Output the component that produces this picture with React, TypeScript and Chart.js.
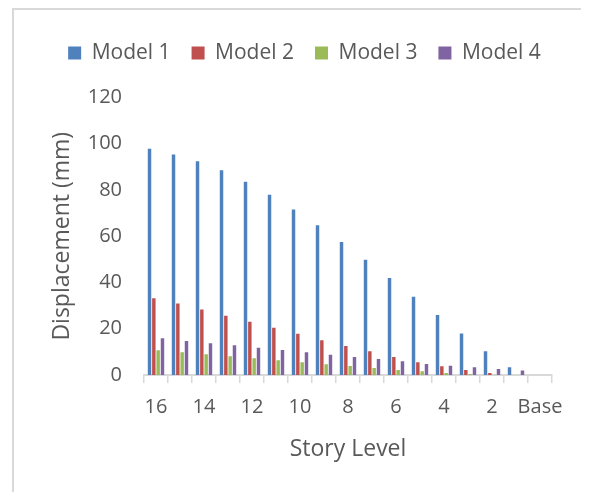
import { useEffect, useRef } from "react";
import { Chart, registerables } from "chart.js";

Chart.register(...registerables);

const storyLevels = ["16", "15", "14", "13", "12", "11", "10", "9", "8", "7", "6", "5", "4", "3", "2", "1", "Base"];
const model1 = [97.8, 95.3, 92.4, 88.5, 83.6, 78.0, 71.6, 64.8, 57.5, 49.8, 41.9, 33.8, 25.9, 17.9, 10.3, 3.3, 0];
const model2 = [33.2, 30.9, 28.3, 25.6, 23.0, 20.4, 17.8, 15.0, 12.5, 10.3, 7.8, 5.5, 3.8, 2.2, 0.9, 0, 0];
const model3 = [10.7, 9.8, 9.0, 8.1, 7.2, 6.4, 5.5, 4.6, 3.9, 3.0, 2.2, 1.6, 0.9, 0.4, 0.1, 0, 0];
const model4 = [15.9, 14.7, 13.7, 12.9, 11.8, 10.8, 9.8, 8.8, 7.8, 6.9, 5.9, 4.8, 4.0, 3.3, 2.6, 2.0, 0];
const yTicks = [0, 20, 40, 60, 80, 100, 120];

const textColor = "#595959";
const fontFamily = "'Open Sans', sans-serif";

// push the plot down below the legend
const legendSpacer = {
  id: "legendSpacer",
  beforeInit(chart: any) {
    const legend = chart.legend;
    if (!legend) return;
    const fit = legend.fit;
    legend.fit = function () {
      fit.call(this);
      this.height += 24;
    };
  },
};

export default function App() {
  const chartRef = useRef<HTMLCanvasElement>(null);
  const chartInstance = useRef<Chart | null>(null);

  useEffect(() => {
    if (!chartRef.current) return;
    if (chartInstance.current) {
      chartInstance.current.destroy();
    }
    const ctx = chartRef.current.getContext("2d");
    if (!ctx) return;

    chartInstance.current = new Chart(ctx, {
      type: "bar",
      data: {
        labels: storyLevels,
        datasets: [
          { label: "Model 1", data: model1, backgroundColor: "#4F81BD" },
          { label: "Model 2", data: model2, backgroundColor: "#C0504D" },
          { label: "Model 3", data: model3, backgroundColor: "#9BBB59" },
          { label: "Model 4", data: model4, backgroundColor: "#8064A2" },
        ],
      },
      options: {
        animation: false,
        responsive: true,
        maintainAspectRatio: false,
        datasets: {
          bar: {
            categoryPercentage: 0.72,
            barPercentage: 0.8,
          },
        },
        layout: {
          padding: { top: 11.5, left: 9, right: 0, bottom: 35 },
        },
        plugins: {
          legend: {
            position: "top",
            labels: {
              boxWidth: 13,
              boxHeight: 13,
              padding: 21,
              color: textColor,
              font: { family: fontFamily, size: 21 },
            },
          },
          tooltip: { enabled: false },
        },
        scales: {
          x: {
            grid: {
              display: true,
              drawOnChartArea: false,
              drawTicks: true,
              tickLength: 8,
              color: "#D9D9D9",
              lineWidth: 1.5,
            },
            border: { display: true, color: "#D9D9D9", width: 2 },
            ticks: {
              autoSkip: false,
              maxRotation: 0,
              padding: 12,
              color: textColor,
              font: { family: fontFamily, size: 20 },
              callback: (_v: any, i: number) => (i % 2 === 0 ? storyLevels[i] : ""),
            },
            title: {
              display: true,
              text: "Story Level",
              color: textColor,
              font: { family: fontFamily, size: 23 },
              padding: { top: 16, bottom: 0 },
            },
            afterFit: (scale: any) => {
              scale.height = 88;
            },
          },
          y: {
            min: 0,
            max: 120,
            grid: { display: false, drawTicks: false },
            border: { display: false },
            afterBuildTicks: (scale: any) => {
              scale.ticks = yTicks.map((v) => ({ value: v }));
            },
            ticks: {
              padding: 22,
              color: textColor,
              font: { family: fontFamily, size: 20 },
            },
            title: {
              display: true,
              text: "Displacement (mm)",
              color: textColor,
              font: { family: fontFamily, size: 23 },
              padding: { top: 26, bottom: 4 },
            },
            afterFit: (scale: any) => {
              scale.width = 121;
            },
          },
          // empty right-hand axis, only keeps space to the right of the plot
          yRight: {
            position: "right",
            min: 0,
            max: 120,
            grid: { display: false, drawTicks: false },
            border: { display: false },
            ticks: { display: false },
            afterFit: (scale: any) => {
              scale.width = 34;
            },
          },
        },
      },
      plugins: [legendSpacer],
    });

    return () => {
      if (chartInstance.current) {
        chartInstance.current.destroy();
        chartInstance.current = null;
      }
    };
  }, []);

  return (
    <div
      style={{
        position: "relative",
        marginLeft: 4,
        width: 572,
        height: 488,
        border: "2px solid #D9D9D9",
        background: "#fff",
      }}
    >
      <canvas ref={chartRef}></canvas>
    </div>
  );
}
